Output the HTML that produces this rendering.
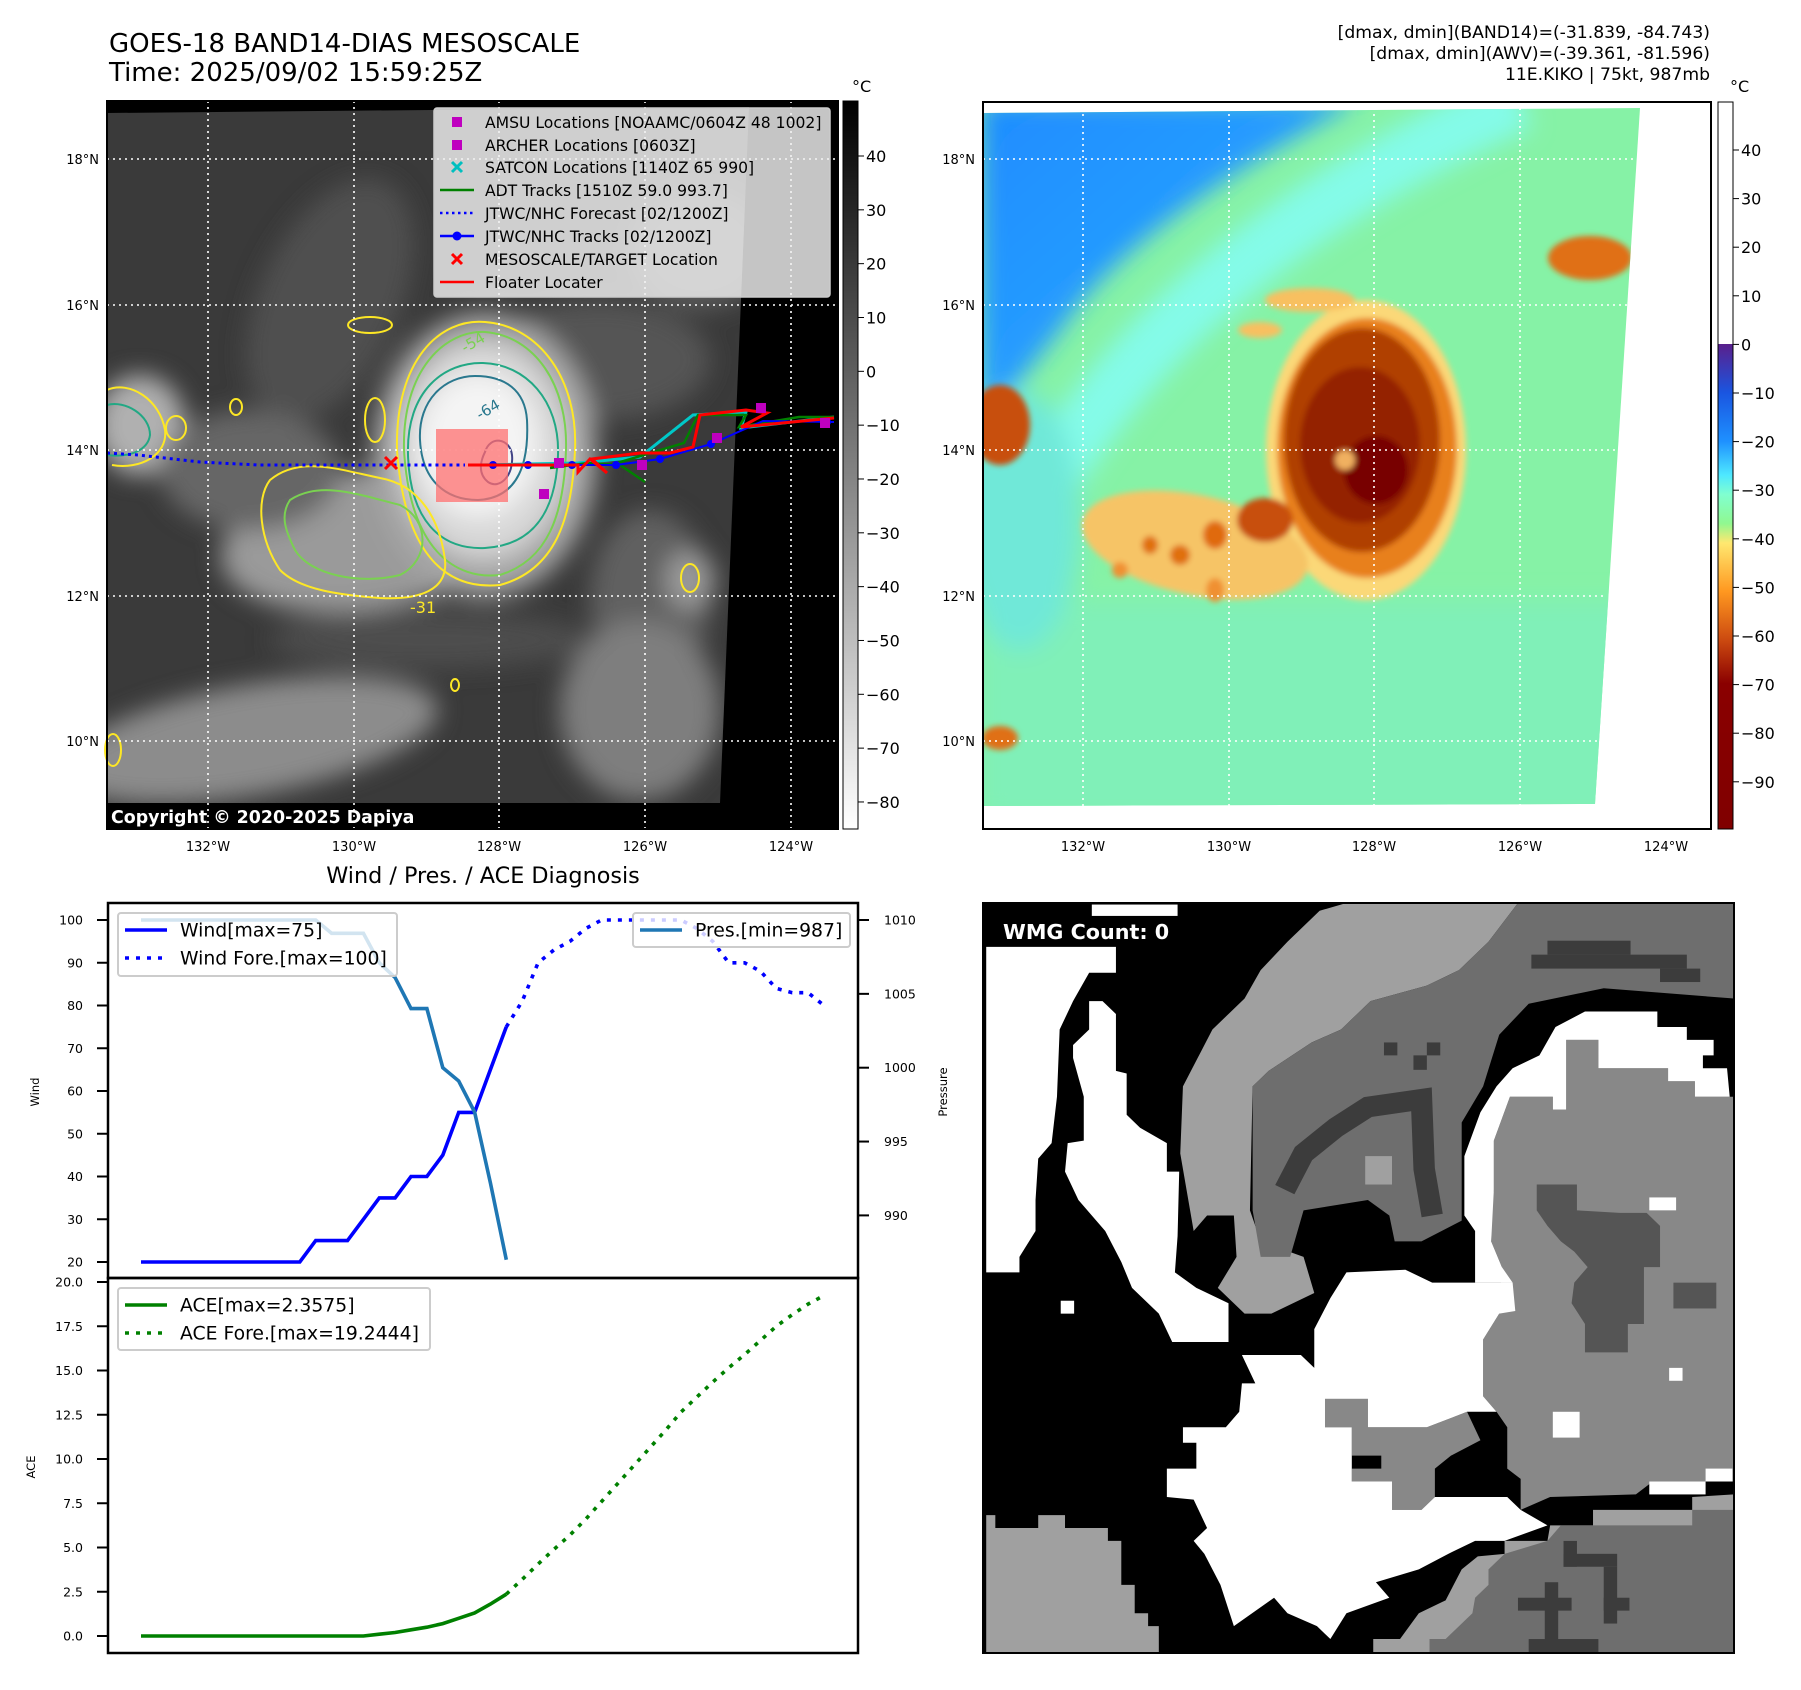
<!DOCTYPE html>
<html><head><meta charset="utf-8"><style>
html,body{margin:0;padding:0;background:#fff;}
svg{display:block;font-family:"DejaVu Sans","Liberation Sans",sans-serif;}
</style></head><body>
<svg id="fig" xmlns="http://www.w3.org/2000/svg" width="1801" height="1690" viewBox="0 0 1801 1690">
<defs>
<filter id="blur12" x="-50%" y="-50%" width="200%" height="200%"><feGaussianBlur stdDeviation="12"/></filter>
<filter id="blur6" x="-50%" y="-50%" width="200%" height="200%"><feGaussianBlur stdDeviation="6"/></filter>
<filter id="blur3" x="-50%" y="-50%" width="200%" height="200%"><feGaussianBlur stdDeviation="3"/></filter>
<clipPath id="lclip"><polygon points="107,113 749,107 720,803 107,803"/></clipPath>
<clipPath id="rclip"><polygon points="983,113 1640,108 1595,804 983,806"/></clipPath>
<linearGradient id="grayBar" x1="0" y1="0" x2="0" y2="1"><stop offset="0" stop-color="#000"/><stop offset="1" stop-color="#fff"/></linearGradient>
<linearGradient id="jetBar" x1="0" y1="0" x2="0" y2="1">
<stop offset="0" stop-color="#5a1f8c"/>
<stop offset="0.10" stop-color="#1a55e0"/>
<stop offset="0.20" stop-color="#1e90ff"/>
<stop offset="0.27" stop-color="#4ee8ff"/>
<stop offset="0.31" stop-color="#80ffd0"/>
<stop offset="0.37" stop-color="#90f890"/>
<stop offset="0.41" stop-color="#ffe870"/>
<stop offset="0.51" stop-color="#ff9820"/>
<stop offset="0.61" stop-color="#cc4a10"/>
<stop offset="0.70" stop-color="#8a0000"/>
<stop offset="1" stop-color="#800000"/>
</linearGradient>
<linearGradient id="blueGrad" x1="0" y1="0" x2="1" y2="1"><stop offset="0" stop-color="#1e8cff"/><stop offset="1" stop-color="#2fb0ff"/></linearGradient>
</defs>

<!-- titles -->
<text x="109" y="52" font-size="26">GOES-18 BAND14-DIAS MESOSCALE</text>
<text x="109" y="81" font-size="26">Time: 2025/09/02 15:59:25Z</text>
<text x="1710" y="38" font-size="17.2" text-anchor="end">[dmax, dmin](BAND14)=(-31.839, -84.743)</text>
<text x="1710" y="59" font-size="17.2" text-anchor="end">[dmax, dmin](AWV)=(-39.361, -81.596)</text>
<text x="1710" y="80" font-size="17.2" text-anchor="end">11E.KIKO | 75kt, 987mb</text>

<!-- LEFT MAP -->
<g>
<rect x="107" y="101" width="731" height="728" fill="#000"/>
<g clip-path="url(#lclip)">
<rect x="100" y="100" width="760" height="720" fill="#3a3a3a"/>
<g filter="url(#blur12)">
<ellipse cx="330" cy="300" rx="70" ry="130" fill="#505050" transform="rotate(25 330 300)"/>
<ellipse cx="600" cy="360" rx="110" ry="60" fill="#555"/>
<ellipse cx="140" cy="425" rx="45" ry="50" fill="#b0b0b0"/>
<ellipse cx="370" cy="540" rx="150" ry="70" fill="#9a9a9a" transform="rotate(-8 370 540)"/>
<ellipse cx="250" cy="470" rx="90" ry="60" fill="#666"/>
<ellipse cx="485" cy="455" rx="112" ry="142" fill="#a6a6a6"/>
<ellipse cx="483" cy="450" rx="85" ry="108" fill="#d8d8d8"/>
<ellipse cx="478" cy="445" rx="60" ry="72" fill="#f4f4f4"/>
<ellipse cx="650" cy="600" rx="60" ry="90" fill="#606060"/>
<ellipse cx="250" cy="740" rx="190" ry="55" fill="#8c8c8c" transform="rotate(-10 250 740)"/>
<ellipse cx="640" cy="710" rx="80" ry="90" fill="#7e7e7e"/>
<ellipse cx="430" cy="640" rx="160" ry="28" fill="#4e4e4e"/>
<ellipse cx="700" cy="250" rx="70" ry="60" fill="#5a5a5a"/>
<ellipse cx="690" cy="580" rx="25" ry="30" fill="#9a9a9a"/>
</g>
</g>
<rect x="107" y="804" width="309" height="25" fill="#000"/>
<!-- contours -->
<g fill="none" stroke-width="2">
<path d="M397,450 C395,360 440,318 485,322 C540,326 578,380 575,450 C572,520 555,570 500,585 C450,590 405,560 397,450 Z" stroke="#fde725"/>
<path d="M404,450 C402,370 445,330 485,332 C535,336 568,385 566,450 C564,515 548,560 500,575 C455,580 410,550 404,450 Z" stroke="#7ad151"/>
<path d="M408,455 C406,390 445,362 483,363 C525,364 560,400 558,455 C556,510 535,545 485,548 C440,550 410,520 408,455 Z" stroke="#22a884"/>
<path d="M420,440 C418,400 445,376 475,376 C505,376 525,390 527,420 C529,460 520,498 478,500 C445,500 422,480 420,440 Z" stroke="#2a788e"/>
<path d="M485,452 C490,435 510,438 512,455 C514,475 500,490 488,482 C478,474 480,462 485,452 Z" stroke="#414487"/>
<path d="M270,480 C300,455 340,470 380,478 C420,485 440,520 445,560 C448,590 420,600 380,598 C340,595 300,590 280,570 C260,540 255,500 270,480 Z" stroke="#fde725"/>
<path d="M290,500 C320,480 360,495 400,505 C430,520 430,560 400,575 C360,585 310,575 295,550 C285,530 280,515 290,500 Z" stroke="#7ad151"/>
<path d="M107,390 C130,380 160,400 165,430 C168,455 140,470 112,465" stroke="#fde725"/>
<path d="M107,405 C125,400 150,415 150,435 C148,450 130,458 107,455" stroke="#22a884"/>
<ellipse cx="176" cy="428" rx="10" ry="12" stroke="#fde725"/>
<ellipse cx="236" cy="407" rx="6" ry="8" stroke="#fde725"/>
<ellipse cx="375" cy="420" rx="10" ry="22" stroke="#fde725"/>
<ellipse cx="690" cy="578" rx="9" ry="14" stroke="#fde725"/>
<ellipse cx="113" cy="750" rx="8" ry="16" stroke="#fde725"/>
<ellipse cx="370" cy="325" rx="22" ry="8" stroke="#fde725"/>
<ellipse cx="455" cy="685" rx="4" ry="6" stroke="#fde725"/>
</g>
<text x="410" y="613" font-size="16" fill="#fde725">-31</text>
<text x="465" y="353" font-size="15" fill="#7ad151" transform="rotate(-30 465 353)">-54</text>
<text x="480" y="420" font-size="15" fill="#2a788e" transform="rotate(-30 480 420)">-64</text>
<!-- gridlines -->
<g stroke="#fff" stroke-width="1.6" stroke-dasharray="2 4">
<line x1="208" y1="101" x2="208" y2="829"/><line x1="354" y1="101" x2="354" y2="829"/><line x1="499" y1="101" x2="499" y2="829"/><line x1="645" y1="101" x2="645" y2="829"/><line x1="791" y1="101" x2="791" y2="829"/>
<line x1="107" y1="159" x2="838" y2="159"/><line x1="107" y1="305" x2="838" y2="305"/><line x1="107" y1="450" x2="838" y2="450"/><line x1="107" y1="596" x2="838" y2="596"/><line x1="107" y1="741" x2="838" y2="741"/>
</g>
<!-- tracks -->
<rect x="436" y="429" width="72" height="73" fill="#ff7070" opacity="0.75"/>
<polyline points="107,453 138,455 200,462 258,465 465,465" fill="none" stroke="#0000ff" stroke-width="3" stroke-dasharray="3 4"/>
<polyline points="480,465 578,463 640,457 693,415 746,412 741,428 834,417" fill="none" stroke="#00c8c8" stroke-width="3"/>
<polyline points="550,468 588,463 620,465 645,482 617,463 684,443 698,415 746,415 739,427 799,417 834,417" fill="none" stroke="#008000" stroke-width="2.5"/>
<polyline points="493,465 528,465 572,465 616,465 660,459 711,444 763,421 834,422" fill="none" stroke="#0000ff" stroke-width="2"/>
<g fill="#0000ff"><circle cx="493" cy="465" r="4"/><circle cx="528" cy="465" r="4"/><circle cx="572" cy="465" r="4"/><circle cx="616" cy="465" r="4"/><circle cx="660" cy="459" r="4"/><circle cx="711" cy="444" r="4"/><circle cx="827" cy="422" r="4"/></g>
<polyline points="468,465 578,465 578,472 590,459 607,473 592,459 640,453 670,453 693,447 700,415 746,410 767,413 741,427 834,418" fill="none" stroke="#ff0000" stroke-width="3"/>
<g fill="#bf00bf"><rect x="756" y="403" width="10" height="10"/><rect x="712" y="433" width="10" height="10"/><rect x="637" y="460" width="10" height="10"/><rect x="539" y="489" width="10" height="10"/><rect x="820" y="418" width="10" height="10"/><rect x="554" y="458" width="10" height="10"/></g>
<path d="M385,457 L397,469 M397,457 L385,469" stroke="#ff0000" stroke-width="3"/>
<!-- legend -->
<g>
<rect x="434" y="108" width="396" height="189" rx="3" fill="#f0f0f0" fill-opacity="0.82" stroke="#ccc" stroke-width="1.5"/>
<rect x="452" y="117" width="10" height="10" fill="#bf00bf"/>
<rect x="452" y="140" width="10" height="10" fill="#bf00bf"/>
<path d="M452,162 L462,172 M462,162 L452,172" stroke="#00bfbf" stroke-width="3"/>
<line x1="440" y1="190" x2="474" y2="190" stroke="#008000" stroke-width="2.5"/>
<line x1="440" y1="213" x2="474" y2="213" stroke="#0000ff" stroke-width="2.5" stroke-dasharray="2.5 3.5"/>
<line x1="440" y1="236" x2="474" y2="236" stroke="#0000ff" stroke-width="2.5"/><circle cx="457" cy="236" r="4.5" fill="#0000ff"/>
<path d="M452,254 L462,264 M462,254 L452,264" stroke="#ff0000" stroke-width="3"/>
<line x1="440" y1="282" x2="474" y2="282" stroke="#ff0000" stroke-width="2.5"/>
<g font-size="15.6" fill="#000">
<text x="485" y="128">AMSU Locations [NOAAMC/0604Z 48 1002]</text>
<text x="485" y="151">ARCHER Locations [0603Z]</text>
<text x="485" y="173">SATCON Locations [1140Z 65 990]</text>
<text x="485" y="196">ADT Tracks [1510Z 59.0 993.7]</text>
<text x="485" y="219">JTWC/NHC Forecast [02/1200Z]</text>
<text x="485" y="242">JTWC/NHC Tracks [02/1200Z]</text>
<text x="485" y="265">MESOSCALE/TARGET Location</text>
<text x="485" y="288">Floater Locater</text>
</g></g>
<text x="111" y="823" font-size="17.4" font-weight="bold" fill="#fff">Copyright © 2020-2025 Dapiya</text>
<rect x="107" y="101" width="731" height="728" fill="none" stroke="#000" stroke-width="2"/>
</g>
<g font-size="13">
<text x="99" y="164" text-anchor="end">18°N</text><text x="99" y="310" text-anchor="end">16°N</text><text x="99" y="455" text-anchor="end">14°N</text><text x="99" y="601" text-anchor="end">12°N</text><text x="99" y="746" text-anchor="end">10°N</text>
<text x="208" y="851" text-anchor="middle">132°W</text><text x="354" y="851" text-anchor="middle">130°W</text><text x="499" y="851" text-anchor="middle">128°W</text><text x="645" y="851" text-anchor="middle">126°W</text><text x="791" y="851" text-anchor="middle">124°W</text>
</g>
<!-- left colorbar -->
<g>
<rect x="843" y="101" width="15" height="728" fill="url(#grayBar)" stroke="#000" stroke-width="1"/>
<text x="852" y="92" font-size="16">°C</text>
<g font-size="16" id="lcbTicks"></g>
</g>

<!-- RIGHT MAP -->
<g>
<rect x="983" y="102" width="728" height="727" fill="#fff"/>
<g clip-path="url(#rclip)">
<rect x="980" y="100" width="740" height="720" fill="#86f2a6"/>
<g filter="url(#blur12)">
<rect x="980" y="600" width="740" height="220" fill="#80f0b8"/>
<path d="M1000,580 C1080,380 1250,220 1520,100" stroke="#84fbe8" stroke-width="60" fill="none"/>
<path d="M980,100 L1360,100 C1250,160 1120,240 1060,330 L980,430 Z" fill="url(#blueGrad)"/>
<ellipse cx="1020" cy="520" rx="60" ry="130" fill="#70e8d8"/>
</g>
<g filter="url(#blur3)">
<ellipse cx="1366" cy="450" rx="100" ry="150" fill="#fbd878"/>
<ellipse cx="1195" cy="545" rx="115" ry="50" fill="#f6c466" transform="rotate(12 1195 545)"/>
<ellipse cx="1367" cy="448" rx="90" ry="130" fill="#e8801c"/>
<ellipse cx="1362" cy="440" rx="78" ry="112" fill="#b04006"/>
<ellipse cx="1360" cy="445" rx="60" ry="78" fill="#942000"/>
<ellipse cx="1376" cy="470" rx="32" ry="34" fill="#780000"/>
<ellipse cx="1345" cy="460" rx="10" ry="10" fill="#f0b060"/>
<ellipse cx="1265" cy="520" rx="28" ry="22" fill="#c85010"/>
<ellipse cx="1215" cy="535" rx="12" ry="14" fill="#e06a10"/>
<ellipse cx="1180" cy="555" rx="10" ry="10" fill="#e07010"/>
<ellipse cx="1150" cy="545" rx="8" ry="9" fill="#e07010"/>
<ellipse cx="1120" cy="570" rx="8" ry="8" fill="#f09030"/>
<ellipse cx="1215" cy="590" rx="9" ry="12" fill="#f09030"/>
<ellipse cx="1000" cy="425" rx="30" ry="40" fill="#c85010"/>
<ellipse cx="1590" cy="258" rx="42" ry="22" fill="#e07018"/>
<ellipse cx="1000" cy="738" rx="18" ry="12" fill="#e07018"/>
<ellipse cx="1310" cy="300" rx="45" ry="12" fill="#f8c060"/>
<ellipse cx="1260" cy="330" rx="22" ry="8" fill="#f8c060"/>
</g>
</g>
<g stroke="#fff" stroke-width="1.6" stroke-dasharray="2 4">
<line x1="1083" y1="102" x2="1083" y2="829"/><line x1="1229" y1="102" x2="1229" y2="829"/><line x1="1374" y1="102" x2="1374" y2="829"/><line x1="1520" y1="102" x2="1520" y2="829"/>
<line x1="983" y1="159" x2="1640" y2="159"/><line x1="983" y1="305" x2="1630" y2="305"/><line x1="983" y1="450" x2="1620" y2="450"/><line x1="983" y1="596" x2="1605" y2="596"/><line x1="983" y1="741" x2="1598" y2="741"/>
</g>
<rect x="983" y="102" width="728" height="727" fill="none" stroke="#000" stroke-width="2"/>
</g>
<g font-size="13">
<text x="975" y="164" text-anchor="end">18°N</text><text x="975" y="310" text-anchor="end">16°N</text><text x="975" y="455" text-anchor="end">14°N</text><text x="975" y="601" text-anchor="end">12°N</text><text x="975" y="746" text-anchor="end">10°N</text>
<text x="1083" y="851" text-anchor="middle">132°W</text><text x="1229" y="851" text-anchor="middle">130°W</text><text x="1374" y="851" text-anchor="middle">128°W</text><text x="1520" y="851" text-anchor="middle">126°W</text><text x="1666" y="851" text-anchor="middle">124°W</text>
</g>
<g>
<rect x="1718" y="102" width="15" height="242" fill="#fff"/>
<rect x="1718" y="344" width="15" height="485" fill="url(#jetBar)"/>
<rect x="1718" y="102" width="15" height="727" fill="none" stroke="#000" stroke-width="1"/>
<text x="1730" y="92" font-size="16">°C</text>
<g font-size="16" id="rcbTicks"></g>
</g>

<!-- BOTTOM LEFT CHART -->
<text x="483" y="883" font-size="22.3" text-anchor="middle">Wind / Pres. / ACE Diagnosis</text>
<g id="chart"></g>

<!-- BOTTOM RIGHT WMG -->
<g>
<svg x="983" y="903" width="751" height="750" viewBox="42 45 1401 1452" preserveAspectRatio="none">
<rect x="42" y="45" width="1401" height="1452" fill="#000"/>
<polygon fill="#a0a0a0" points="720,45 1040,45 985,120 930,175 870,205 765,235 710,290 655,315 575,370 545,400 540,640 560,700 640,730 660,800 580,840 530,840 480,790 515,730 510,650 460,650 435,680 410,530 415,400 470,290 530,230 560,175 610,120 670,60"/>
<polygon fill="#6e6e6e" points="1040,45 1443,45 1443,230 1200,210 1060,240 1005,300 975,400 935,470 935,660 860,700 810,700 800,650 760,620 640,640 615,730 560,730 545,640 545,400 575,370 655,315 710,290 765,235 870,205 930,175 985,120"/>
<g fill="#3c3c3c"><rect x="1095" y="118" width="155" height="27"/><rect x="1065" y="145" width="290" height="27"/><rect x="1305" y="172" width="75" height="26"/><rect x="790" y="315" width="25" height="25"/><rect x="870" y="315" width="25" height="25"/><rect x="845" y="340" width="25" height="28"/></g>
<polyline points="605,600 640,530 700,480 760,440 860,425 865,560 880,650" fill="none" stroke="#3c3c3c" stroke-width="40"/>
<rect x="755" y="535" width="50" height="55" fill="#a0a0a0"/>
<polygon fill="#888" points="1025,420 1105,420 1105,445 1130,445 1130,310 1190,310 1190,365 1320,365 1320,390 1370,390 1370,420 1443,420 1443,1165 1390,1165 1285,1170 1260,1190 1100,1195 1045,1220 1045,1160 1020,1140 1020,1060 1000,1030 975,1000 975,890 1005,840 1010,750 990,700 990,640 995,600 995,505"/>
<polygon fill="#555" points="1075,590 1150,590 1150,640 1230,645 1280,645 1305,670 1305,750 1275,750 1275,860 1245,860 1245,915 1165,915 1165,860 1140,820 1145,780 1170,750 1145,720 1120,700 1095,670 1075,640"/>
<rect x="1330" y="780" width="80" height="50" fill="#555"/>
<polygon fill="#888" points="680,1005 760,1005 760,1060 870,1060 945,1030 970,1085 915,1115 885,1140 885,1195 860,1220 805,1220 805,1165 730,1165 730,1140 785,1140 785,1115 730,1115 730,1060 680,1060"/>
<rect x="698" y="1225" width="24" height="80" fill="#888"/>
<g fill="#fff">
<polygon points="48,130 290,130 290,180 240,180 210,235 185,290 180,420 170,510 145,540 140,620 140,680 110,730 110,760 48,760"/>
<polygon points="240,235 265,235 290,260 290,370 310,375 310,455 335,480 385,510 385,565 408,565 405,690 400,760 440,790 500,820 500,895 395,895 370,840 320,790 300,740 270,680 245,650 220,620 195,565 200,510 230,505 230,420 210,345 210,320 240,290"/>
<polygon points="690,810 720,760 830,755 880,780 1030,780 1035,835 1005,840 975,890 975,1000 1000,1030 945,1030 870,1060 760,1060 760,1005 680,1005 680,1060 730,1060 730,1165 805,1165 805,1220 860,1220 885,1195 965,1195 1020,1195 1045,1220 1095,1250 1015,1280 960,1280 910,1305 855,1335 775,1360 800,1390 720,1420 690,1470 665,1445 610,1420 585,1390 510,1445 485,1365 455,1305 435,1280 460,1255 435,1200 385,1195 385,1140 440,1140 440,1090 415,1090 415,1060 495,1060 520,1030 525,975 550,975 525,920 635,920 660,945 660,870"/>
<polygon points="1165,255 1300,255 1300,285 1355,285 1355,310 1405,310 1405,340 1385,340 1385,365 1430,365 1435,420 1370,420 1370,390 1320,390 1320,365 1190,365 1190,310 1130,310 1130,445 1105,445 1105,420 1025,420 995,505 995,600 990,700 1010,750 1030,780 960,780 960,680 940,650 940,535 970,450 1000,400 1030,365 1080,340 1110,285"/>
<rect x="1285" y="615" width="50" height="25"/><rect x="1322" y="945" width="25" height="25"/><rect x="1105" y="1030" width="50" height="50"/><rect x="1390" y="1140" width="50" height="25"/><rect x="1285" y="1165" width="105" height="25"/><rect x="187" y="815" width="25" height="25"/><rect x="245" y="48" width="160" height="22"/>
</g>
<polygon fill="#a0a0a0" points="48,1230 65,1230 65,1255 145,1255 145,1230 195,1230 195,1255 275,1255 275,1280 300,1280 300,1365 325,1365 325,1420 350,1420 350,1445 370,1445 370,1497 48,1497"/>
<polygon fill="#a0a0a0" points="1015,1280 1095,1280 1100,1250 1180,1250 1180,1220 1365,1220 1365,1195 1443,1190 1443,1497 770,1497 770,1470 820,1470 855,1420 905,1395 935,1335 965,1310 1015,1305"/>
<polygon fill="#6e6e6e" points="1095,1280 1120,1250 1365,1250 1365,1220 1443,1220 1443,1497 875,1497 875,1470 905,1470 955,1420 960,1390 985,1365 985,1335 1015,1305"/>
<g fill="#3c3c3c"><rect x="1040" y="1390" width="100" height="25"/><rect x="1090" y="1360" width="25" height="137"/><rect x="1060" y="1470" width="130" height="27"/><rect x="1125" y="1280" width="25" height="50"/><rect x="1125" y="1305" width="100" height="25"/><rect x="1200" y="1330" width="25" height="110"/><rect x="1200" y="1390" width="48" height="25"/></g>
</svg>
<text x="1003" y="939" font-size="20.7" font-weight="bold" fill="#fff">WMG Count: 0</text>
<rect x="983" y="903" width="751" height="750" fill="none" stroke="#000" stroke-width="2"/>
</g>
</svg>

<script>
// ---- chart data ----
const windObs = [20,20,20,20,20,20,20,20,20,20,20,25,25,25,30,35,35,40,40,45,55,55,65,75];
const windFcst = [75,81,90,93,95,98,100,100,100,100,100,100,98,95,90,90,88,84,83,83,80];
const presObs = [1010,1010,1010,1010,1010,1010,1010,1010,1010,1010,1010,1010,1009.1,1009.1,1009.1,1007.1,1006.1,1004,1004,1000,999.1,997,992.2,987];
const aceObs = [0,0,0,0,0,0,0,0,0,0,0,0,0,0,0,0.1,0.2,0.35,0.5,0.7,1.0,1.3,1.8,2.36];
const aceFcst = [2.36,3.2,4.06,4.9,5.7,6.6,7.6,8.6,9.6,10.6,11.6,12.65,13.5,14.35,15.15,15.9,16.7,17.5,18.15,18.75,19.24];
const windTicks = [20,30,40,50,60,70,80,90,100];
const presTicks = [990,995,1000,1005,1010];
const aceTicks = [0,2.5,5,7.5,10,12.5,15,17.5,20];
const lcbTickVals = [40,30,20,10,0,-10,-20,-30,-40,-50,-60,-70,-80];
const rcbTickVals = [40,30,20,10,0,-10,-20,-30,-40,-50,-60,-70,-80,-90];

const NS = "http://www.w3.org/2000/svg";
function mk(tag, attrs, parent){const e=document.createElementNS(NS,tag);for(const k in attrs)e.setAttribute(k,attrs[k]);parent.appendChild(e);return e;}
const xOf = i => 141 + i*(824-141)/43;
const yWind = w => 1262 - (w-20)*4.275;
const yPres = p => 920 + (1010-p)*14.77;
const yAce = a => 1636 - a*17.7;
const FCST0 = 23;
const chart = document.getElementById('chart');

const fr1 = mk('rect',{x:108,y:903,width:750,height:375,fill:'none',stroke:'#000','stroke-width':2.5},chart);


const fr2 = mk('rect',{x:108,y:1278,width:750,height:375,fill:'none',stroke:'#000','stroke-width':2.5},chart);



windTicks.forEach(v=>{
  const y=yWind(v);
  mk('line',{x1:97,y1:y,x2:108,y2:y,stroke:'#000','stroke-width':2},chart);
  const t=mk('text',{x:83,y:y+4.5,'font-size':12.5,'text-anchor':'end'},chart);
  t.textContent=String(v);
  
  
});
presTicks.forEach(v=>{
  const y=yPres(v);
  mk('line',{x1:858,y1:y,x2:869,y2:y,stroke:'#000','stroke-width':2},chart);
  const t=mk('text',{x:884,y:y+4.5,'font-size':12.5},chart);
  t.textContent=String(v);
  
  
});
aceTicks.forEach(v=>{
  const y=yAce(v);
  mk('line',{x1:97,y1:y,x2:108,y2:y,stroke:'#000','stroke-width':2},chart);
  const t=mk('text',{x:83,y:y+4.5,'font-size':12.5,'text-anchor':'end'},chart);
  t.textContent=v.toFixed(1);
  
  
});
function rotLabel(txt,x,y,name){
  const t=mk('text',{x:x,y:y,'font-size':11.5,'text-anchor':'middle',transform:'rotate(-90 '+x+' '+y+')'},chart);
  t.textContent=txt;
  
  
}
rotLabel('Wind',39,1092,'wind-axis-title');
rotLabel('Pressure',947,1092,'pressure-axis-title');
rotLabel('ACE',35,1467,'ace-axis-title');

function pts(arr,off,yf){return arr.map((v,k)=>xOf(k+off).toFixed(1)+','+yf(v).toFixed(1)).join(' ');}
const wl = mk('polyline',{points:pts(windObs,0,yWind),fill:'none',stroke:'#0000ff','stroke-width':3.6},chart);


const wf = mk('polyline',{points:pts(windFcst,FCST0,yWind),fill:'none',stroke:'#0000ff','stroke-width':3.6,'stroke-dasharray':'4 7'},chart);


const pl = mk('polyline',{points:pts(presObs,0,yPres),fill:'none',stroke:'#1f77b4','stroke-width':3.6},chart);


const al = mk('polyline',{points:pts(aceObs,0,yAce),fill:'none',stroke:'#008000','stroke-width':3.6},chart);


const af = mk('polyline',{points:pts(aceFcst,FCST0,yAce),fill:'none',stroke:'#008000','stroke-width':3.6,'stroke-dasharray':'4 7'},chart);



function legend(x,y,w,h,items,name){
  const g=mk('g',{},chart);
  
  
  mk('rect',{x:x,y:y,width:w,height:h,rx:3,fill:'#fff','fill-opacity':0.8,stroke:'#ccc','stroke-width':2},g);
  items.forEach((it,k)=>{
    const yy=y+17+k*28;
    const a={x1:x+7,y1:yy,x2:x+49,y2:yy,stroke:it.c,'stroke-width':3.6};
    if(it.d)a['stroke-dasharray']='4 7';
    mk('line',a,g);
    const t=mk('text',{x:x+62,y:yy+6.5,'font-size':18.8},g);
    t.textContent=it.t;
  });
}
legend(118,913,279,63,[{t:'Wind[max=75]',c:'#0000ff'},{t:'Wind Fore.[max=100]',c:'#0000ff',d:1}],'wind-legend');
legend(633,913,217,34,[{t:'Pres.[min=987]',c:'#1f77b4'}],'pressure-legend');
legend(118,1288,312,62,[{t:'ACE[max=2.3575]',c:'#008000'},{t:'ACE Fore.[max=19.2444]',c:'#008000',d:1}],'ace-legend');

const lg=document.getElementById('lcbTicks');
lcbTickVals.forEach(v=>{
  const y=156+(40-v)*5.383;
  mk('line',{x1:858,y1:y,x2:864,y2:y,stroke:'#000','stroke-width':1},lg);
  const t=mk('text',{x:866,y:y+6},lg);
  t.textContent=(v<0?'\u2212':'')+Math.abs(v);
  
  
});
const rg=document.getElementById('rcbTicks');
rcbTickVals.forEach(v=>{
  const y=150+(40-v)*4.86;
  mk('line',{x1:1733,y1:y,x2:1739,y2:y,stroke:'#000','stroke-width':1},rg);
  const t=mk('text',{x:1741,y:y+6},rg);
  t.textContent=(v<0?'\u2212':'')+Math.abs(v);
  
  
});
</script>
</body></html>
